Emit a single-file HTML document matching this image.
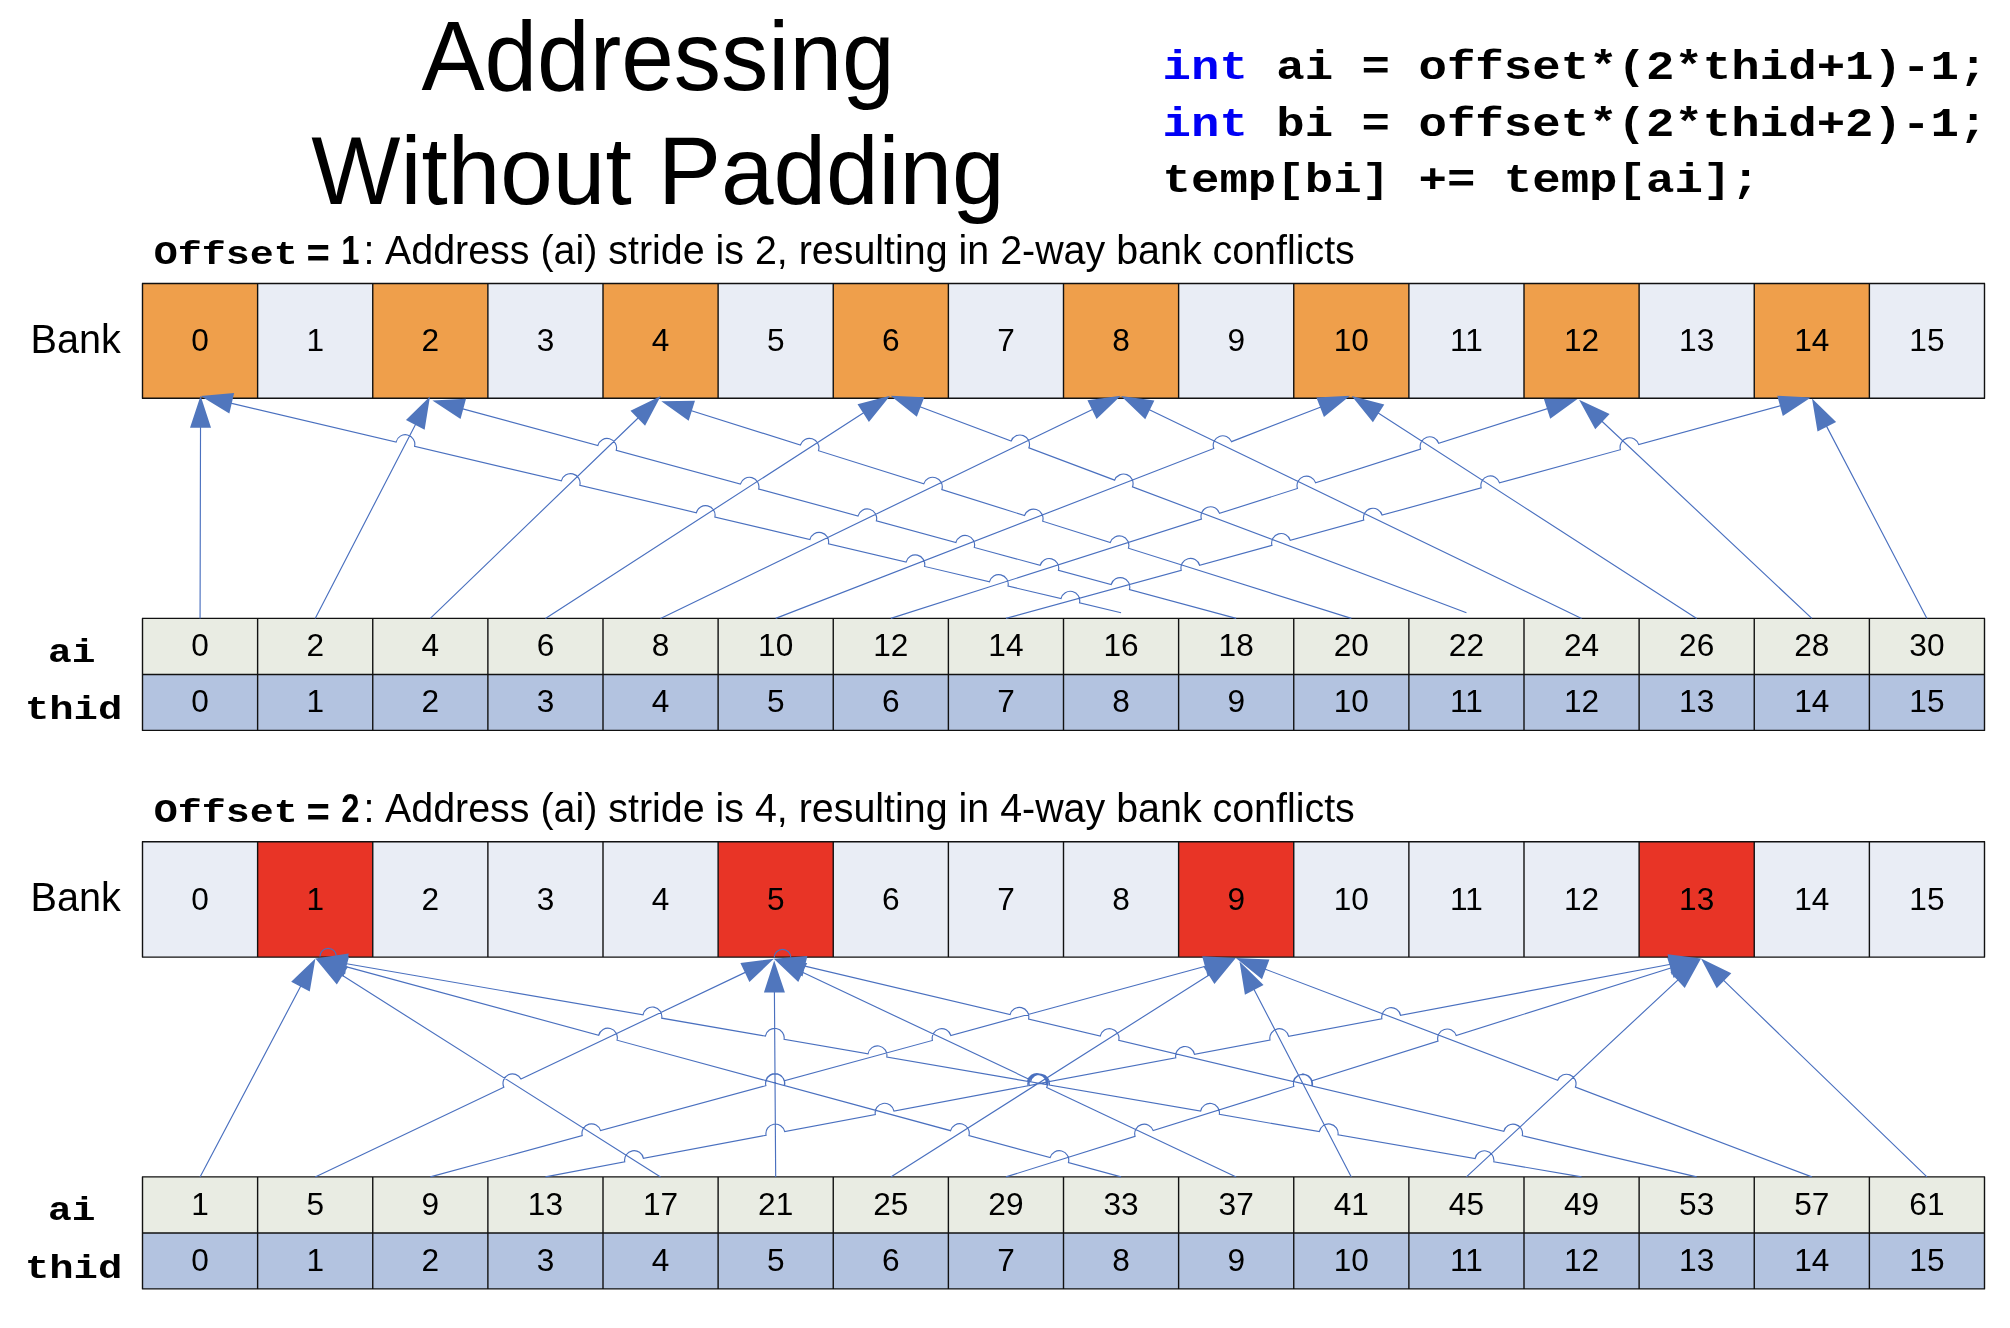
<!DOCTYPE html><html><head><meta charset="utf-8"><style>html,body{margin:0;padding:0;background:#fff;}svg{display:block;will-change:transform}</style></head><body>
<svg width="2010" height="1328" viewBox="0 0 2010 1328">
<rect width="2010" height="1328" fill="#fff"/>
<text transform="translate(658,89.8) scale(1,1.03)" text-anchor="middle" style="font-family:&quot;Liberation Sans&quot;,sans-serif;font-size:94.6px">Addressing</text>
<text transform="translate(658,203.6) scale(1,1.03)" text-anchor="middle" style="font-family:&quot;Liberation Sans&quot;,sans-serif;font-size:94.5px">Without Padding</text>
<text transform="translate(1162.5,79.3) scale(1,0.84)" xml:space="preserve" style="font-family:&quot;Liberation Mono&quot;,monospace;font-size:47.4px;font-weight:bold"><tspan fill="#0000F5">int</tspan> ai = offset*(2*thid+1)-1;</text>
<text transform="translate(1162.5,135.8) scale(1,0.84)" xml:space="preserve" style="font-family:&quot;Liberation Mono&quot;,monospace;font-size:47.4px;font-weight:bold"><tspan fill="#0000F5">int</tspan> bi = offset*(2*thid+2)-1;</text>
<text transform="translate(1162.5,192.3) scale(1,0.84)" xml:space="preserve" style="font-family:&quot;Liberation Mono&quot;,monospace;font-size:47.4px;font-weight:bold"><tspan fill="#0000F5"></tspan>temp[bi] += temp[ai];</text>
<text transform="translate(30.6,352.9) scale(1,1.04)" style="font-family:&quot;Liberation Sans&quot;,sans-serif;font-size:39.6px">Bank</text>
<text transform="translate(48.1,661.6) scale(1,0.84)" style="font-family:&quot;Liberation Mono&quot;,monospace;font-size:39.5px;font-weight:bold">ai</text>
<text transform="translate(24.9,719.4) scale(1,0.84)" style="font-family:&quot;Liberation Mono&quot;,monospace;font-size:40.6px;font-weight:bold">thid</text>
<text transform="translate(153.8,263.7) scale(1,0.84)" style="font-family:&quot;Liberation Mono&quot;,monospace;font-size:40px;font-weight:bold">Offset</text>
<text x="306.6" y="267.2" style="font-family:&quot;Liberation Sans&quot;,sans-serif;font-size:40px;font-weight:bold">=</text>
<text transform="translate(341.2,263.7) scale(0.8,1)" style="font-family:&quot;Liberation Sans&quot;,sans-serif;font-size:41px;font-weight:bold">1</text>
<text transform="translate(363.5,263.7) scale(1,1.03)" style="font-family:&quot;Liberation Sans&quot;,sans-serif;font-size:39.4px">:</text>
<text transform="translate(385,263.7) scale(1,1.03)" style="font-family:&quot;Liberation Sans&quot;,sans-serif;font-size:39.4px">Address (ai) stride is 2, resulting in 2-way bank conflicts</text>
<rect x="142.50" y="283.5" width="115.125" height="114.70" fill="#EF9F4B"/>
<rect x="142.50" y="618.4" width="115.125" height="56.10" fill="#E9ECE3"/>
<rect x="142.50" y="674.5" width="115.125" height="55.90" fill="#B3C3E0"/>
<rect x="257.62" y="283.5" width="115.125" height="114.70" fill="#E9EDF5"/>
<rect x="257.62" y="618.4" width="115.125" height="56.10" fill="#E9ECE3"/>
<rect x="257.62" y="674.5" width="115.125" height="55.90" fill="#B3C3E0"/>
<rect x="372.75" y="283.5" width="115.125" height="114.70" fill="#EF9F4B"/>
<rect x="372.75" y="618.4" width="115.125" height="56.10" fill="#E9ECE3"/>
<rect x="372.75" y="674.5" width="115.125" height="55.90" fill="#B3C3E0"/>
<rect x="487.88" y="283.5" width="115.125" height="114.70" fill="#E9EDF5"/>
<rect x="487.88" y="618.4" width="115.125" height="56.10" fill="#E9ECE3"/>
<rect x="487.88" y="674.5" width="115.125" height="55.90" fill="#B3C3E0"/>
<rect x="603.00" y="283.5" width="115.125" height="114.70" fill="#EF9F4B"/>
<rect x="603.00" y="618.4" width="115.125" height="56.10" fill="#E9ECE3"/>
<rect x="603.00" y="674.5" width="115.125" height="55.90" fill="#B3C3E0"/>
<rect x="718.12" y="283.5" width="115.125" height="114.70" fill="#E9EDF5"/>
<rect x="718.12" y="618.4" width="115.125" height="56.10" fill="#E9ECE3"/>
<rect x="718.12" y="674.5" width="115.125" height="55.90" fill="#B3C3E0"/>
<rect x="833.25" y="283.5" width="115.125" height="114.70" fill="#EF9F4B"/>
<rect x="833.25" y="618.4" width="115.125" height="56.10" fill="#E9ECE3"/>
<rect x="833.25" y="674.5" width="115.125" height="55.90" fill="#B3C3E0"/>
<rect x="948.38" y="283.5" width="115.125" height="114.70" fill="#E9EDF5"/>
<rect x="948.38" y="618.4" width="115.125" height="56.10" fill="#E9ECE3"/>
<rect x="948.38" y="674.5" width="115.125" height="55.90" fill="#B3C3E0"/>
<rect x="1063.50" y="283.5" width="115.125" height="114.70" fill="#EF9F4B"/>
<rect x="1063.50" y="618.4" width="115.125" height="56.10" fill="#E9ECE3"/>
<rect x="1063.50" y="674.5" width="115.125" height="55.90" fill="#B3C3E0"/>
<rect x="1178.62" y="283.5" width="115.125" height="114.70" fill="#E9EDF5"/>
<rect x="1178.62" y="618.4" width="115.125" height="56.10" fill="#E9ECE3"/>
<rect x="1178.62" y="674.5" width="115.125" height="55.90" fill="#B3C3E0"/>
<rect x="1293.75" y="283.5" width="115.125" height="114.70" fill="#EF9F4B"/>
<rect x="1293.75" y="618.4" width="115.125" height="56.10" fill="#E9ECE3"/>
<rect x="1293.75" y="674.5" width="115.125" height="55.90" fill="#B3C3E0"/>
<rect x="1408.88" y="283.5" width="115.125" height="114.70" fill="#E9EDF5"/>
<rect x="1408.88" y="618.4" width="115.125" height="56.10" fill="#E9ECE3"/>
<rect x="1408.88" y="674.5" width="115.125" height="55.90" fill="#B3C3E0"/>
<rect x="1524.00" y="283.5" width="115.125" height="114.70" fill="#EF9F4B"/>
<rect x="1524.00" y="618.4" width="115.125" height="56.10" fill="#E9ECE3"/>
<rect x="1524.00" y="674.5" width="115.125" height="55.90" fill="#B3C3E0"/>
<rect x="1639.12" y="283.5" width="115.125" height="114.70" fill="#E9EDF5"/>
<rect x="1639.12" y="618.4" width="115.125" height="56.10" fill="#E9ECE3"/>
<rect x="1639.12" y="674.5" width="115.125" height="55.90" fill="#B3C3E0"/>
<rect x="1754.25" y="283.5" width="115.125" height="114.70" fill="#EF9F4B"/>
<rect x="1754.25" y="618.4" width="115.125" height="56.10" fill="#E9ECE3"/>
<rect x="1754.25" y="674.5" width="115.125" height="55.90" fill="#B3C3E0"/>
<rect x="1869.38" y="283.5" width="115.125" height="114.70" fill="#E9EDF5"/>
<rect x="1869.38" y="618.4" width="115.125" height="56.10" fill="#E9ECE3"/>
<rect x="1869.38" y="674.5" width="115.125" height="55.90" fill="#B3C3E0"/>
<path d="M142.50,283.5V398.2 M257.62,283.5V398.2 M372.75,283.5V398.2 M487.88,283.5V398.2 M603.00,283.5V398.2 M718.12,283.5V398.2 M833.25,283.5V398.2 M948.38,283.5V398.2 M1063.50,283.5V398.2 M1178.62,283.5V398.2 M1293.75,283.5V398.2 M1408.88,283.5V398.2 M1524.00,283.5V398.2 M1639.12,283.5V398.2 M1754.25,283.5V398.2 M1869.38,283.5V398.2 M1984.50,283.5V398.2 M142.50,618.4V730.4 M257.62,618.4V730.4 M372.75,618.4V730.4 M487.88,618.4V730.4 M603.00,618.4V730.4 M718.12,618.4V730.4 M833.25,618.4V730.4 M948.38,618.4V730.4 M1063.50,618.4V730.4 M1178.62,618.4V730.4 M1293.75,618.4V730.4 M1408.88,618.4V730.4 M1524.00,618.4V730.4 M1639.12,618.4V730.4 M1754.25,618.4V730.4 M1869.38,618.4V730.4 M1984.50,618.4V730.4 M141.9,283.5H1985.1 M141.9,398.2H1985.1 M141.9,618.4H1985.1 M141.9,674.5H1985.1 M141.9,730.4H1985.1" stroke="#111" stroke-width="1.4" fill="none"/>
<text x="200.06" y="350.90" text-anchor="middle" style="font-family:&quot;Liberation Sans&quot;,sans-serif;font-size:31.6px">0</text>
<text x="200.06" y="656.10" text-anchor="middle" style="font-family:&quot;Liberation Sans&quot;,sans-serif;font-size:31.6px">0</text>
<text x="200.06" y="712.20" text-anchor="middle" style="font-family:&quot;Liberation Sans&quot;,sans-serif;font-size:31.6px">0</text>
<text x="315.19" y="350.90" text-anchor="middle" style="font-family:&quot;Liberation Sans&quot;,sans-serif;font-size:31.6px">1</text>
<text x="315.19" y="656.10" text-anchor="middle" style="font-family:&quot;Liberation Sans&quot;,sans-serif;font-size:31.6px">2</text>
<text x="315.19" y="712.20" text-anchor="middle" style="font-family:&quot;Liberation Sans&quot;,sans-serif;font-size:31.6px">1</text>
<text x="430.31" y="350.90" text-anchor="middle" style="font-family:&quot;Liberation Sans&quot;,sans-serif;font-size:31.6px">2</text>
<text x="430.31" y="656.10" text-anchor="middle" style="font-family:&quot;Liberation Sans&quot;,sans-serif;font-size:31.6px">4</text>
<text x="430.31" y="712.20" text-anchor="middle" style="font-family:&quot;Liberation Sans&quot;,sans-serif;font-size:31.6px">2</text>
<text x="545.44" y="350.90" text-anchor="middle" style="font-family:&quot;Liberation Sans&quot;,sans-serif;font-size:31.6px">3</text>
<text x="545.44" y="656.10" text-anchor="middle" style="font-family:&quot;Liberation Sans&quot;,sans-serif;font-size:31.6px">6</text>
<text x="545.44" y="712.20" text-anchor="middle" style="font-family:&quot;Liberation Sans&quot;,sans-serif;font-size:31.6px">3</text>
<text x="660.56" y="350.90" text-anchor="middle" style="font-family:&quot;Liberation Sans&quot;,sans-serif;font-size:31.6px">4</text>
<text x="660.56" y="656.10" text-anchor="middle" style="font-family:&quot;Liberation Sans&quot;,sans-serif;font-size:31.6px">8</text>
<text x="660.56" y="712.20" text-anchor="middle" style="font-family:&quot;Liberation Sans&quot;,sans-serif;font-size:31.6px">4</text>
<text x="775.69" y="350.90" text-anchor="middle" style="font-family:&quot;Liberation Sans&quot;,sans-serif;font-size:31.6px">5</text>
<text x="775.69" y="656.10" text-anchor="middle" style="font-family:&quot;Liberation Sans&quot;,sans-serif;font-size:31.6px">10</text>
<text x="775.69" y="712.20" text-anchor="middle" style="font-family:&quot;Liberation Sans&quot;,sans-serif;font-size:31.6px">5</text>
<text x="890.81" y="350.90" text-anchor="middle" style="font-family:&quot;Liberation Sans&quot;,sans-serif;font-size:31.6px">6</text>
<text x="890.81" y="656.10" text-anchor="middle" style="font-family:&quot;Liberation Sans&quot;,sans-serif;font-size:31.6px">12</text>
<text x="890.81" y="712.20" text-anchor="middle" style="font-family:&quot;Liberation Sans&quot;,sans-serif;font-size:31.6px">6</text>
<text x="1005.94" y="350.90" text-anchor="middle" style="font-family:&quot;Liberation Sans&quot;,sans-serif;font-size:31.6px">7</text>
<text x="1005.94" y="656.10" text-anchor="middle" style="font-family:&quot;Liberation Sans&quot;,sans-serif;font-size:31.6px">14</text>
<text x="1005.94" y="712.20" text-anchor="middle" style="font-family:&quot;Liberation Sans&quot;,sans-serif;font-size:31.6px">7</text>
<text x="1121.06" y="350.90" text-anchor="middle" style="font-family:&quot;Liberation Sans&quot;,sans-serif;font-size:31.6px">8</text>
<text x="1121.06" y="656.10" text-anchor="middle" style="font-family:&quot;Liberation Sans&quot;,sans-serif;font-size:31.6px">16</text>
<text x="1121.06" y="712.20" text-anchor="middle" style="font-family:&quot;Liberation Sans&quot;,sans-serif;font-size:31.6px">8</text>
<text x="1236.19" y="350.90" text-anchor="middle" style="font-family:&quot;Liberation Sans&quot;,sans-serif;font-size:31.6px">9</text>
<text x="1236.19" y="656.10" text-anchor="middle" style="font-family:&quot;Liberation Sans&quot;,sans-serif;font-size:31.6px">18</text>
<text x="1236.19" y="712.20" text-anchor="middle" style="font-family:&quot;Liberation Sans&quot;,sans-serif;font-size:31.6px">9</text>
<text x="1351.31" y="350.90" text-anchor="middle" style="font-family:&quot;Liberation Sans&quot;,sans-serif;font-size:31.6px">10</text>
<text x="1351.31" y="656.10" text-anchor="middle" style="font-family:&quot;Liberation Sans&quot;,sans-serif;font-size:31.6px">20</text>
<text x="1351.31" y="712.20" text-anchor="middle" style="font-family:&quot;Liberation Sans&quot;,sans-serif;font-size:31.6px">10</text>
<text x="1466.44" y="350.90" text-anchor="middle" style="font-family:&quot;Liberation Sans&quot;,sans-serif;font-size:31.6px">11</text>
<text x="1466.44" y="656.10" text-anchor="middle" style="font-family:&quot;Liberation Sans&quot;,sans-serif;font-size:31.6px">22</text>
<text x="1466.44" y="712.20" text-anchor="middle" style="font-family:&quot;Liberation Sans&quot;,sans-serif;font-size:31.6px">11</text>
<text x="1581.56" y="350.90" text-anchor="middle" style="font-family:&quot;Liberation Sans&quot;,sans-serif;font-size:31.6px">12</text>
<text x="1581.56" y="656.10" text-anchor="middle" style="font-family:&quot;Liberation Sans&quot;,sans-serif;font-size:31.6px">24</text>
<text x="1581.56" y="712.20" text-anchor="middle" style="font-family:&quot;Liberation Sans&quot;,sans-serif;font-size:31.6px">12</text>
<text x="1696.69" y="350.90" text-anchor="middle" style="font-family:&quot;Liberation Sans&quot;,sans-serif;font-size:31.6px">13</text>
<text x="1696.69" y="656.10" text-anchor="middle" style="font-family:&quot;Liberation Sans&quot;,sans-serif;font-size:31.6px">26</text>
<text x="1696.69" y="712.20" text-anchor="middle" style="font-family:&quot;Liberation Sans&quot;,sans-serif;font-size:31.6px">13</text>
<text x="1811.81" y="350.90" text-anchor="middle" style="font-family:&quot;Liberation Sans&quot;,sans-serif;font-size:31.6px">14</text>
<text x="1811.81" y="656.10" text-anchor="middle" style="font-family:&quot;Liberation Sans&quot;,sans-serif;font-size:31.6px">28</text>
<text x="1811.81" y="712.20" text-anchor="middle" style="font-family:&quot;Liberation Sans&quot;,sans-serif;font-size:31.6px">14</text>
<text x="1926.94" y="350.90" text-anchor="middle" style="font-family:&quot;Liberation Sans&quot;,sans-serif;font-size:31.6px">15</text>
<text x="1926.94" y="656.10" text-anchor="middle" style="font-family:&quot;Liberation Sans&quot;,sans-serif;font-size:31.6px">30</text>
<text x="1926.94" y="712.20" text-anchor="middle" style="font-family:&quot;Liberation Sans&quot;,sans-serif;font-size:31.6px">15</text>
<path d="M200.06,618.40 L200.55,415.70 M315.19,618.40 L420.81,414.26 M430.31,618.40 L646.40,409.98 M545.44,618.40 L873.30,406.55 M660.56,618.40 L1102.80,404.41 M775.69,618.40 L1213.79,448.52 A9.5,9.5 0 0 1 1231.50,441.65 L1331.35,402.93 M890.81,618.40 L1201.46,519.15 A9.5,9.5 0 0 1 1219.56,513.36 L1297.46,488.47 A9.5,9.5 0 0 1 1315.56,482.69 L1420.59,449.13 A9.5,9.5 0 0 1 1438.69,443.35 L1558.45,405.09 M1005.94,618.40 L1181.25,570.27 A9.5,9.5 0 0 1 1199.57,565.24 L1271.94,545.37 A9.5,9.5 0 0 1 1290.26,540.34 L1363.76,520.16 A9.5,9.5 0 0 1 1382.08,515.13 L1481.21,487.91 A9.5,9.5 0 0 1 1499.54,482.88 L1620.39,449.70 A9.5,9.5 0 0 1 1638.71,444.67 L1791.61,402.70 M1121.06,612.70 L1079.51,602.92 A9.5,9.5 0 0 0 1061.01,598.56 L1008.01,586.09 A9.5,9.5 0 0 0 989.52,581.73 L924.55,566.44 A9.5,9.5 0 0 0 906.06,562.08 L828.45,543.81 A9.5,9.5 0 0 0 809.96,539.46 L714.87,517.07 A9.5,9.5 0 0 0 696.38,512.72 L579.84,485.28 A9.5,9.5 0 0 0 561.34,480.93 L414.57,446.37 A9.5,9.5 0 0 0 396.07,442.02 L220.07,400.58 M1236.19,618.40 L1129.48,589.48 A9.5,9.5 0 0 0 1111.14,584.52 L1058.47,570.25 A9.5,9.5 0 0 0 1040.14,565.28 L974.28,547.43 A9.5,9.5 0 0 0 955.94,542.46 L876.36,520.90 A9.5,9.5 0 0 0 858.02,515.93 L758.69,489.02 A9.5,9.5 0 0 0 740.36,484.05 L616.23,450.41 A9.5,9.5 0 0 0 597.89,445.44 L451.70,405.83 M1351.31,618.40 L1128.41,548.23 A9.5,9.5 0 0 0 1110.28,542.53 L1042.66,521.24 A9.5,9.5 0 0 0 1024.54,515.54 L941.87,489.52 A9.5,9.5 0 0 0 923.75,483.81 L818.49,450.68 A9.5,9.5 0 0 0 800.36,444.97 L680.38,407.21 M1466.44,612.70 L1132.47,486.85 A9.5,9.5 0 0 0 1114.69,480.15 L1028.90,447.82 A9.5,9.5 0 0 0 1011.12,441.12 L909.32,402.75 M1581.56,618.40 L1139.01,404.70 M1696.69,618.40 L1368.51,406.84 M1811.81,618.40 L1593.68,413.49 M1926.94,618.40 L1821.26,416.13" stroke="#4A70BF" stroke-width="1.15" fill="none"/>
<path d="M200.60,395.70L211.02,427.73L190.02,427.67Z M430.00,396.50L424.62,429.75L405.97,420.10Z M660.80,396.10L645.06,425.87L630.48,410.76Z M890.10,395.70L868.92,421.89L857.52,404.25Z M1120.80,395.70L1096.57,419.09L1087.42,400.19Z M1350.00,395.70L1323.96,417.06L1316.37,397.48Z M1577.50,399.00L1550.21,418.74L1543.82,398.74Z M1810.90,397.40L1782.82,416.00L1777.26,395.75Z M200.60,396.00L234.15,393.11L229.34,413.55Z M432.40,400.60L466.03,398.83L460.54,419.10Z M661.30,401.20L694.98,400.79L688.67,420.82Z M890.60,395.70L924.25,397.16L916.84,416.81Z M1121.00,396.00L1154.38,400.46L1145.25,419.37Z M1351.70,396.00L1384.28,404.51L1372.91,422.16Z M1579.10,399.80L1609.61,414.06L1595.23,429.36Z M1812.00,398.40L1836.12,421.90L1817.51,431.62Z" fill="#5076BD"/>
<text transform="translate(30.6,911.1999999999999) scale(1,1.04)" style="font-family:&quot;Liberation Sans&quot;,sans-serif;font-size:39.6px">Bank</text>
<text transform="translate(48.1,1219.9) scale(1,0.84)" style="font-family:&quot;Liberation Mono&quot;,monospace;font-size:39.5px;font-weight:bold">ai</text>
<text transform="translate(24.9,1277.6999999999998) scale(1,0.84)" style="font-family:&quot;Liberation Mono&quot;,monospace;font-size:40.6px;font-weight:bold">thid</text>
<text transform="translate(153.8,822.0) scale(1,0.84)" style="font-family:&quot;Liberation Mono&quot;,monospace;font-size:40px;font-weight:bold">Offset</text>
<text x="306.6" y="825.5" style="font-family:&quot;Liberation Sans&quot;,sans-serif;font-size:40px;font-weight:bold">=</text>
<text transform="translate(341.2,822.0) scale(0.8,1)" style="font-family:&quot;Liberation Sans&quot;,sans-serif;font-size:41px;font-weight:bold">2</text>
<text transform="translate(363.5,822.0) scale(1,1.03)" style="font-family:&quot;Liberation Sans&quot;,sans-serif;font-size:39.4px">:</text>
<text transform="translate(385,822.0) scale(1,1.03)" style="font-family:&quot;Liberation Sans&quot;,sans-serif;font-size:39.4px">Address (ai) stride is 4, resulting in 4-way bank conflicts</text>
<rect x="142.50" y="841.8" width="115.125" height="115.30" fill="#E9EDF5"/>
<rect x="142.50" y="1176.9" width="115.125" height="56.10" fill="#E9ECE3"/>
<rect x="142.50" y="1233.0" width="115.125" height="55.90" fill="#B3C3E0"/>
<rect x="257.62" y="841.8" width="115.125" height="115.30" fill="#E83426"/>
<rect x="257.62" y="1176.9" width="115.125" height="56.10" fill="#E9ECE3"/>
<rect x="257.62" y="1233.0" width="115.125" height="55.90" fill="#B3C3E0"/>
<rect x="372.75" y="841.8" width="115.125" height="115.30" fill="#E9EDF5"/>
<rect x="372.75" y="1176.9" width="115.125" height="56.10" fill="#E9ECE3"/>
<rect x="372.75" y="1233.0" width="115.125" height="55.90" fill="#B3C3E0"/>
<rect x="487.88" y="841.8" width="115.125" height="115.30" fill="#E9EDF5"/>
<rect x="487.88" y="1176.9" width="115.125" height="56.10" fill="#E9ECE3"/>
<rect x="487.88" y="1233.0" width="115.125" height="55.90" fill="#B3C3E0"/>
<rect x="603.00" y="841.8" width="115.125" height="115.30" fill="#E9EDF5"/>
<rect x="603.00" y="1176.9" width="115.125" height="56.10" fill="#E9ECE3"/>
<rect x="603.00" y="1233.0" width="115.125" height="55.90" fill="#B3C3E0"/>
<rect x="718.12" y="841.8" width="115.125" height="115.30" fill="#E83426"/>
<rect x="718.12" y="1176.9" width="115.125" height="56.10" fill="#E9ECE3"/>
<rect x="718.12" y="1233.0" width="115.125" height="55.90" fill="#B3C3E0"/>
<rect x="833.25" y="841.8" width="115.125" height="115.30" fill="#E9EDF5"/>
<rect x="833.25" y="1176.9" width="115.125" height="56.10" fill="#E9ECE3"/>
<rect x="833.25" y="1233.0" width="115.125" height="55.90" fill="#B3C3E0"/>
<rect x="948.38" y="841.8" width="115.125" height="115.30" fill="#E9EDF5"/>
<rect x="948.38" y="1176.9" width="115.125" height="56.10" fill="#E9ECE3"/>
<rect x="948.38" y="1233.0" width="115.125" height="55.90" fill="#B3C3E0"/>
<rect x="1063.50" y="841.8" width="115.125" height="115.30" fill="#E9EDF5"/>
<rect x="1063.50" y="1176.9" width="115.125" height="56.10" fill="#E9ECE3"/>
<rect x="1063.50" y="1233.0" width="115.125" height="55.90" fill="#B3C3E0"/>
<rect x="1178.62" y="841.8" width="115.125" height="115.30" fill="#E83426"/>
<rect x="1178.62" y="1176.9" width="115.125" height="56.10" fill="#E9ECE3"/>
<rect x="1178.62" y="1233.0" width="115.125" height="55.90" fill="#B3C3E0"/>
<rect x="1293.75" y="841.8" width="115.125" height="115.30" fill="#E9EDF5"/>
<rect x="1293.75" y="1176.9" width="115.125" height="56.10" fill="#E9ECE3"/>
<rect x="1293.75" y="1233.0" width="115.125" height="55.90" fill="#B3C3E0"/>
<rect x="1408.88" y="841.8" width="115.125" height="115.30" fill="#E9EDF5"/>
<rect x="1408.88" y="1176.9" width="115.125" height="56.10" fill="#E9ECE3"/>
<rect x="1408.88" y="1233.0" width="115.125" height="55.90" fill="#B3C3E0"/>
<rect x="1524.00" y="841.8" width="115.125" height="115.30" fill="#E9EDF5"/>
<rect x="1524.00" y="1176.9" width="115.125" height="56.10" fill="#E9ECE3"/>
<rect x="1524.00" y="1233.0" width="115.125" height="55.90" fill="#B3C3E0"/>
<rect x="1639.12" y="841.8" width="115.125" height="115.30" fill="#E83426"/>
<rect x="1639.12" y="1176.9" width="115.125" height="56.10" fill="#E9ECE3"/>
<rect x="1639.12" y="1233.0" width="115.125" height="55.90" fill="#B3C3E0"/>
<rect x="1754.25" y="841.8" width="115.125" height="115.30" fill="#E9EDF5"/>
<rect x="1754.25" y="1176.9" width="115.125" height="56.10" fill="#E9ECE3"/>
<rect x="1754.25" y="1233.0" width="115.125" height="55.90" fill="#B3C3E0"/>
<rect x="1869.38" y="841.8" width="115.125" height="115.30" fill="#E9EDF5"/>
<rect x="1869.38" y="1176.9" width="115.125" height="56.10" fill="#E9ECE3"/>
<rect x="1869.38" y="1233.0" width="115.125" height="55.90" fill="#B3C3E0"/>
<path d="M142.50,841.8V957.1 M257.62,841.8V957.1 M372.75,841.8V957.1 M487.88,841.8V957.1 M603.00,841.8V957.1 M718.12,841.8V957.1 M833.25,841.8V957.1 M948.38,841.8V957.1 M1063.50,841.8V957.1 M1178.62,841.8V957.1 M1293.75,841.8V957.1 M1408.88,841.8V957.1 M1524.00,841.8V957.1 M1639.12,841.8V957.1 M1754.25,841.8V957.1 M1869.38,841.8V957.1 M1984.50,841.8V957.1 M142.50,1176.9V1288.9 M257.62,1176.9V1288.9 M372.75,1176.9V1288.9 M487.88,1176.9V1288.9 M603.00,1176.9V1288.9 M718.12,1176.9V1288.9 M833.25,1176.9V1288.9 M948.38,1176.9V1288.9 M1063.50,1176.9V1288.9 M1178.62,1176.9V1288.9 M1293.75,1176.9V1288.9 M1408.88,1176.9V1288.9 M1524.00,1176.9V1288.9 M1639.12,1176.9V1288.9 M1754.25,1176.9V1288.9 M1869.38,1176.9V1288.9 M1984.50,1176.9V1288.9 M141.9,841.8H1985.1 M141.9,957.1H1985.1 M141.9,1176.9H1985.1 M141.9,1233.0H1985.1 M141.9,1288.9H1985.1" stroke="#111" stroke-width="1.4" fill="none"/>
<text x="200.06" y="909.80" text-anchor="middle" style="font-family:&quot;Liberation Sans&quot;,sans-serif;font-size:31.6px">0</text>
<text x="200.06" y="1214.60" text-anchor="middle" style="font-family:&quot;Liberation Sans&quot;,sans-serif;font-size:31.6px">1</text>
<text x="200.06" y="1270.70" text-anchor="middle" style="font-family:&quot;Liberation Sans&quot;,sans-serif;font-size:31.6px">0</text>
<text x="315.19" y="909.80" text-anchor="middle" style="font-family:&quot;Liberation Sans&quot;,sans-serif;font-size:31.6px">1</text>
<text x="315.19" y="1214.60" text-anchor="middle" style="font-family:&quot;Liberation Sans&quot;,sans-serif;font-size:31.6px">5</text>
<text x="315.19" y="1270.70" text-anchor="middle" style="font-family:&quot;Liberation Sans&quot;,sans-serif;font-size:31.6px">1</text>
<text x="430.31" y="909.80" text-anchor="middle" style="font-family:&quot;Liberation Sans&quot;,sans-serif;font-size:31.6px">2</text>
<text x="430.31" y="1214.60" text-anchor="middle" style="font-family:&quot;Liberation Sans&quot;,sans-serif;font-size:31.6px">9</text>
<text x="430.31" y="1270.70" text-anchor="middle" style="font-family:&quot;Liberation Sans&quot;,sans-serif;font-size:31.6px">2</text>
<text x="545.44" y="909.80" text-anchor="middle" style="font-family:&quot;Liberation Sans&quot;,sans-serif;font-size:31.6px">3</text>
<text x="545.44" y="1214.60" text-anchor="middle" style="font-family:&quot;Liberation Sans&quot;,sans-serif;font-size:31.6px">13</text>
<text x="545.44" y="1270.70" text-anchor="middle" style="font-family:&quot;Liberation Sans&quot;,sans-serif;font-size:31.6px">3</text>
<text x="660.56" y="909.80" text-anchor="middle" style="font-family:&quot;Liberation Sans&quot;,sans-serif;font-size:31.6px">4</text>
<text x="660.56" y="1214.60" text-anchor="middle" style="font-family:&quot;Liberation Sans&quot;,sans-serif;font-size:31.6px">17</text>
<text x="660.56" y="1270.70" text-anchor="middle" style="font-family:&quot;Liberation Sans&quot;,sans-serif;font-size:31.6px">4</text>
<text x="775.69" y="909.80" text-anchor="middle" style="font-family:&quot;Liberation Sans&quot;,sans-serif;font-size:31.6px">5</text>
<text x="775.69" y="1214.60" text-anchor="middle" style="font-family:&quot;Liberation Sans&quot;,sans-serif;font-size:31.6px">21</text>
<text x="775.69" y="1270.70" text-anchor="middle" style="font-family:&quot;Liberation Sans&quot;,sans-serif;font-size:31.6px">5</text>
<text x="890.81" y="909.80" text-anchor="middle" style="font-family:&quot;Liberation Sans&quot;,sans-serif;font-size:31.6px">6</text>
<text x="890.81" y="1214.60" text-anchor="middle" style="font-family:&quot;Liberation Sans&quot;,sans-serif;font-size:31.6px">25</text>
<text x="890.81" y="1270.70" text-anchor="middle" style="font-family:&quot;Liberation Sans&quot;,sans-serif;font-size:31.6px">6</text>
<text x="1005.94" y="909.80" text-anchor="middle" style="font-family:&quot;Liberation Sans&quot;,sans-serif;font-size:31.6px">7</text>
<text x="1005.94" y="1214.60" text-anchor="middle" style="font-family:&quot;Liberation Sans&quot;,sans-serif;font-size:31.6px">29</text>
<text x="1005.94" y="1270.70" text-anchor="middle" style="font-family:&quot;Liberation Sans&quot;,sans-serif;font-size:31.6px">7</text>
<text x="1121.06" y="909.80" text-anchor="middle" style="font-family:&quot;Liberation Sans&quot;,sans-serif;font-size:31.6px">8</text>
<text x="1121.06" y="1214.60" text-anchor="middle" style="font-family:&quot;Liberation Sans&quot;,sans-serif;font-size:31.6px">33</text>
<text x="1121.06" y="1270.70" text-anchor="middle" style="font-family:&quot;Liberation Sans&quot;,sans-serif;font-size:31.6px">8</text>
<text x="1236.19" y="909.80" text-anchor="middle" style="font-family:&quot;Liberation Sans&quot;,sans-serif;font-size:31.6px">9</text>
<text x="1236.19" y="1214.60" text-anchor="middle" style="font-family:&quot;Liberation Sans&quot;,sans-serif;font-size:31.6px">37</text>
<text x="1236.19" y="1270.70" text-anchor="middle" style="font-family:&quot;Liberation Sans&quot;,sans-serif;font-size:31.6px">9</text>
<text x="1351.31" y="909.80" text-anchor="middle" style="font-family:&quot;Liberation Sans&quot;,sans-serif;font-size:31.6px">10</text>
<text x="1351.31" y="1214.60" text-anchor="middle" style="font-family:&quot;Liberation Sans&quot;,sans-serif;font-size:31.6px">41</text>
<text x="1351.31" y="1270.70" text-anchor="middle" style="font-family:&quot;Liberation Sans&quot;,sans-serif;font-size:31.6px">10</text>
<text x="1466.44" y="909.80" text-anchor="middle" style="font-family:&quot;Liberation Sans&quot;,sans-serif;font-size:31.6px">11</text>
<text x="1466.44" y="1214.60" text-anchor="middle" style="font-family:&quot;Liberation Sans&quot;,sans-serif;font-size:31.6px">45</text>
<text x="1466.44" y="1270.70" text-anchor="middle" style="font-family:&quot;Liberation Sans&quot;,sans-serif;font-size:31.6px">11</text>
<text x="1581.56" y="909.80" text-anchor="middle" style="font-family:&quot;Liberation Sans&quot;,sans-serif;font-size:31.6px">12</text>
<text x="1581.56" y="1214.60" text-anchor="middle" style="font-family:&quot;Liberation Sans&quot;,sans-serif;font-size:31.6px">49</text>
<text x="1581.56" y="1270.70" text-anchor="middle" style="font-family:&quot;Liberation Sans&quot;,sans-serif;font-size:31.6px">12</text>
<text x="1696.69" y="909.80" text-anchor="middle" style="font-family:&quot;Liberation Sans&quot;,sans-serif;font-size:31.6px">13</text>
<text x="1696.69" y="1214.60" text-anchor="middle" style="font-family:&quot;Liberation Sans&quot;,sans-serif;font-size:31.6px">53</text>
<text x="1696.69" y="1270.70" text-anchor="middle" style="font-family:&quot;Liberation Sans&quot;,sans-serif;font-size:31.6px">13</text>
<text x="1811.81" y="909.80" text-anchor="middle" style="font-family:&quot;Liberation Sans&quot;,sans-serif;font-size:31.6px">14</text>
<text x="1811.81" y="1214.60" text-anchor="middle" style="font-family:&quot;Liberation Sans&quot;,sans-serif;font-size:31.6px">57</text>
<text x="1811.81" y="1270.70" text-anchor="middle" style="font-family:&quot;Liberation Sans&quot;,sans-serif;font-size:31.6px">14</text>
<text x="1926.94" y="909.80" text-anchor="middle" style="font-family:&quot;Liberation Sans&quot;,sans-serif;font-size:31.6px">15</text>
<text x="1926.94" y="1214.60" text-anchor="middle" style="font-family:&quot;Liberation Sans&quot;,sans-serif;font-size:31.6px">61</text>
<text x="1926.94" y="1270.70" text-anchor="middle" style="font-family:&quot;Liberation Sans&quot;,sans-serif;font-size:31.6px">15</text>
<path d="M200.06,1176.90 L306.06,976.09 M315.19,1176.90 L503.83,1087.19 A9.5,9.5 0 0 1 520.98,1079.03 L755.74,967.39 M430.31,1176.90 L582.24,1135.61 A9.5,9.5 0 0 1 600.57,1130.63 L765.88,1085.71 A9.5,9.5 0 0 1 784.21,1080.72 L932.44,1040.44 A9.5,9.5 0 0 1 950.77,1035.46 L1216.50,963.24 M545.44,1176.90 L624.76,1161.91 A9.5,9.5 0 0 1 643.43,1158.38 L766.05,1135.20 A9.5,9.5 0 0 1 784.72,1131.68 L875.33,1114.55 A9.5,9.5 0 0 1 894.00,1111.02 L1027.99,1085.70 A9.5,9.5 0 0 1 1046.66,1082.17 L1029.25,1085.46 A9.5,9.5 0 0 1 1047.92,1081.93 L1175.78,1057.77 A9.5,9.5 0 0 1 1194.45,1054.24 L1269.98,1039.96 A9.5,9.5 0 0 1 1288.65,1036.43 L1381.86,1018.82 A9.5,9.5 0 0 1 1400.53,1015.29 L1681.35,962.21 M660.56,1176.90 L332.30,969.10 M775.69,1176.90 L774.34,980.50 M890.81,1176.90 L1218.91,968.72 M1005.94,1176.90 L1135.07,1136.33 A9.5,9.5 0 0 1 1153.19,1130.63 L1293.82,1086.44 A9.5,9.5 0 0 1 1311.94,1080.75 L1438.01,1041.14 A9.5,9.5 0 0 1 1456.13,1035.44 L1681.92,964.50 M1121.06,1176.90 L1068.44,1162.63 A9.5,9.5 0 0 0 1050.10,1157.66 L968.93,1135.64 A9.5,9.5 0 0 0 950.59,1130.67 L784.50,1085.62 A9.5,9.5 0 0 0 766.17,1080.65 L784.21,1085.54 A9.5,9.5 0 0 0 765.87,1080.57 L617.03,1040.20 A9.5,9.5 0 0 0 598.69,1035.23 L334.70,963.63 M1236.19,1176.90 L1046.67,1087.51 A9.5,9.5 0 0 0 1029.49,1079.40 L791.89,967.33 M1351.31,1176.90 L1248.71,979.25 M1466.44,1176.90 L1686.36,972.13 M1581.56,1176.90 L1493.80,1161.75 A9.5,9.5 0 0 0 1475.08,1158.52 L1338.02,1134.87 A9.5,9.5 0 0 0 1319.30,1131.64 L1219.36,1114.40 A9.5,9.5 0 0 0 1200.64,1111.16 L1049.32,1085.05 A9.5,9.5 0 0 0 1030.60,1081.82 L1047.87,1084.80 A9.5,9.5 0 0 0 1029.15,1081.57 L1046.29,1084.53 A9.5,9.5 0 0 0 1027.57,1081.30 L886.80,1057.01 A9.5,9.5 0 0 0 868.07,1053.77 L784.09,1039.28 A9.5,9.5 0 0 0 765.37,1036.05 L661.73,1018.17 A9.5,9.5 0 0 0 643.00,1014.93 L335.11,961.80 M1696.69,1176.90 L1522.29,1135.69 A9.5,9.5 0 0 0 1503.80,1131.32 L1312.27,1086.05 A9.5,9.5 0 0 0 1293.77,1081.68 L1311.69,1085.92 A9.5,9.5 0 0 0 1293.20,1081.55 L1118.75,1040.32 A9.5,9.5 0 0 0 1100.26,1035.95 L1028.58,1019.01 A9.5,9.5 0 0 0 1010.09,1014.64 L793.26,963.40 M1811.81,1176.90 L1575.42,1087.07 A9.5,9.5 0 0 0 1557.66,1080.32 L1254.50,965.10 M1926.94,1176.90 L1715.38,972.40 M320.0,956.5A8.2,8.2 0 0 1 336.4,956.5 M774.2,957.6A8.3,8.3 0 0 1 790.8,957.6" stroke="#4A70BF" stroke-width="1.15" fill="none"/>
<path d="M315.40,958.40L309.75,991.60L291.18,981.80Z M773.80,958.80L749.41,982.03L740.39,963.06Z M1235.80,958.00L1207.67,976.52L1202.17,956.26Z M1701.00,958.50L1671.51,974.76L1667.61,954.13Z M315.40,958.40L348.05,966.64L336.82,984.39Z M774.20,960.50L784.92,992.43L763.92,992.57Z M1235.80,958.00L1214.41,984.01L1203.15,966.28Z M1701.00,958.50L1673.62,978.11L1667.32,958.08Z M315.40,958.40L349.03,956.64L343.54,976.91Z M773.80,958.80L807.22,962.95L798.26,981.95Z M1239.50,961.50L1263.56,985.06L1244.92,994.74Z M1701.00,958.50L1684.74,987.99L1670.42,972.62Z M315.40,958.40L348.72,953.49L345.15,974.19Z M773.80,958.80L807.36,955.94L802.53,976.38Z M1235.80,958.00L1269.44,959.55L1261.98,979.18Z M1701.00,958.50L1731.31,973.19L1716.71,988.29Z" fill="#5076BD"/>
</svg></body></html>
